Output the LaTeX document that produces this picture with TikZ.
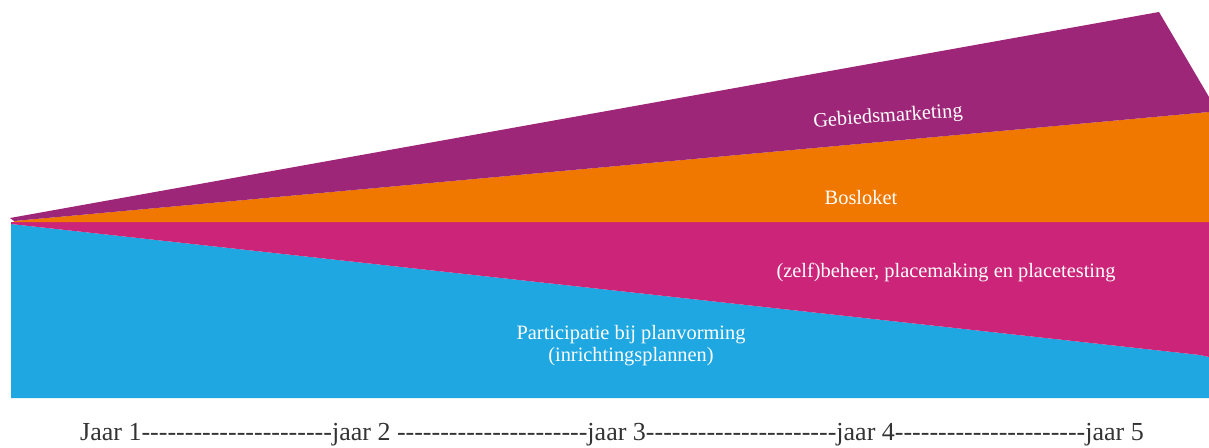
\documentclass[tikz,border=0pt]{standalone}
\usepackage{fontspec}
\setmainfont{Liberation Serif}
\newfontfamily\jaarfont{Liberation Serif}[Ligatures=TeXOff]
\definecolor{paars}{HTML}{9E2679}
\definecolor{oranje}{HTML}{F07800}
\definecolor{roze}{HTML}{CC2479}
\definecolor{blauw}{HTML}{1FA7E1}
\tikzset{band/.style={white,font=\fontsize{20.4}{22}\selectfont,align=center}}

\begin{document}
\begin{tikzpicture}[x=1pt,y=-1pt]
\useasboundingbox (0,0) rectangle (1209,447);
\fill[blauw] (11,224) -- (1200,355) -- (1209,357) -- (1209,398) -- (11,398) -- cycle;
\fill[roze] (11,222) -- (1209,222) -- (1209,357) -- (1200,355) -- (11,224) -- cycle;
\fill[oranje] (14,221) -- (1209,112) -- (1209,222) -- (14,222) -- cycle;
\fill[paars] (10,218) -- (1159,12) -- (1209,97) -- (1209,112) -- (14,221) -- cycle;
\node[band,rotate=4] (gebied) at (888,117) {Gebiedsmarketing};
\node[band] (bosloket) at (861,198) {Bosloket};
\node[band] (beheer) at (946,273) {(zelf)beheer, placemaking en placetesting};
\node[band] (participatie) at (631,346) {Participatie bij planvorming\\(inrichtingsplannen)};
\node[anchor=base west,text=black!80,font=\jaarfont\fontsize{26}{30}\selectfont,inner sep=0pt] (jaren) at (80,440) {Jaar 1----------------------jaar 2 ----------------------jaar 3----------------------jaar 4----------------------jaar 5};
\end{tikzpicture}
\end{document}
